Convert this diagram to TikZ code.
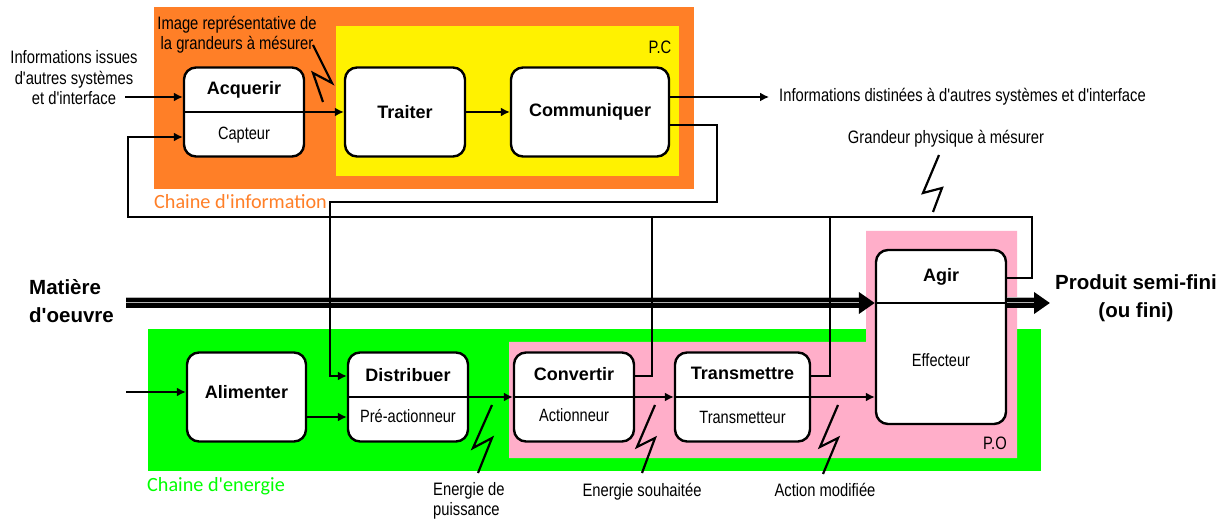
\documentclass[tikz,border=0pt]{standalone}
\usepackage{fontspec}
\setmainfont{Liberation Sans}[Ligatures=TeXOff]
\newfontfamily\narrowfont{Liberation Sans}[FakeStretch=0.82, Ligatures=TeXOff]
\newfontfamily\calibrifont{Carlito}[Ligatures=TeXOff]
\usetikzlibrary{arrows.meta,positioning}
\definecolor{orangePC}{HTML}{FF7F27}
\definecolor{yellowPC}{HTML}{FFF200}
\definecolor{greenPO}{HTML}{00FF00}
\definecolor{pinkPO}{HTML}{FFAEC9}

\begin{document}
\begin{tikzpicture}[x=1pt, y=1pt,
    box/.style={draw, line width=2.4pt, rounded corners=12pt, fill=white, minimum width=120pt, minimum height=89pt, inner sep=0pt, font=\bfseries\fontsize{18}{21}\selectfont},
    boxtitle/.style={font=\bfseries\fontsize{18}{21}\selectfont, inner sep=0pt},
    boxsub/.style={font=\narrowfont\fontsize{17.8}{20}\selectfont, inner sep=0pt},
    lbl/.style={font=\narrowfont\fontsize{18}{20.5}\selectfont, align=center, inner sep=0pt},
    biglbl/.style={font=\bfseries\fontsize{20.5}{28}\selectfont, inner sep=0pt},
    chainlbl/.style={font=\calibrifont\fontsize{20.2}{22}\selectfont, inner sep=0pt, anchor=west},
    arrow/.style={-{Latex[length=9pt,width=9pt]}, line width=1.6pt},
    link/.style={line width=1.6pt},
    divider/.style={line width=2pt},
    zap/.style={line width=2.2pt},
    flow/.style={line width=9.5pt, -{Triangle[length=16pt,width=21pt]},
        preaction={draw=gray!60, line width=11pt, -, shorten >=15pt},
        postaction={draw=gray!60, line width=1pt, -, shorten >=16pt}}
]
    \fill[white] (0,0) rectangle (1227,-521);
    \fill[orangePC] (154,-7) rectangle (694,-189);
    \fill[yellowPC] (336,-26) rectangle (679,-176);
    \fill[greenPO] (148,-329) rectangle (1041,-471);
    \fill[pinkPO] (866,-231) -- (1017,-231) -- (1017,-458) -- (509,-458) -- (509,-342) -- (866,-342) -- cycle;
    \useasboundingbox (0,0) rectangle (1227,-521);

    \node[lbl] (pclbl) at (660,-47) {P.C};
    \node[lbl] (polbl) at (995,-443) {P.O};
    \node[chainlbl, text=orangePC] (infochain) at (154,-202) {Chaine d'information};
    \node[chainlbl, text=greenPO] (energychain) at (147,-486) {Chaine d'energie};

    % chaine d'information
    \node[box] (acq) at (244,-112) {};
    \draw[divider] (acq.west) -- (acq.east);
    \node[boxtitle] (acqT) at ([yshift=22pt]acq.center) {Acquerir};
    \node[boxsub] (acqS) at ([yshift=-23pt]acq.center) {Capteur};
    \node[box, right=38.6pt of acq] (trait) {Traiter};
    \node[box, right=43.6pt of trait, minimum width=158pt] (comm) {Communiquer};

    % chaine d'energie
    \node[box, minimum width=119pt] (alim) at (246.5,-397) {};
    \node[boxtitle] (alimT) at ([yshift=5pt]alim.center) {Alimenter};
    \node[box, right=39.6pt of alim] (dist) {};
    \draw[divider] (dist.west) -- (dist.east);
    \node[boxtitle] (distT) at ([yshift=22pt]dist.center) {Distribuer};
    \node[boxsub] (distS) at ([yshift=-19pt]dist.center) {Pré-actionneur};
    \node[box, right=43.6pt of dist] (conv) {};
    \draw[divider] (conv.west) -- (conv.east);
    \node[boxtitle] (convT) at ([yshift=23pt]conv.center) {Convertir};
    \node[boxsub] (convS) at ([yshift=-18pt]conv.center) {Actionneur};
    \node[box, right=38.6pt of conv, minimum width=135pt] (trans) {};
    \draw[divider] (trans.west) -- (trans.east);
    \node[boxtitle] (transT) at ([yshift=24pt]trans.center) {Transmettre};
    \node[boxsub] (transS) at ([yshift=-20pt]trans.center) {Transmetteur};
    \node[box, minimum width=130pt, minimum height=174pt] (agir) at (941,-337) {};
    \coordinate (agirDiv) at ([yshift=34pt]agir.center);
    \draw[divider] (agirDiv -| agir.west) -- (agirDiv -| agir.east);
    \node[boxtitle] (agirT) at ([yshift=60pt]agir.center) {Agir};
    \node[boxsub] (agirS) at ([yshift=-23pt]agir.center) {Effecteur};

    % textes
    \node[lbl] (infoin) at (74,-78) {Informations issues\\d'autres systèmes\\et d'interface};
    \node[lbl] (imglbl) at (237,-34.5) {Image représentative de\\la grandeurs à mésurer};
    \node[lbl, anchor=west] (infoout) at (779,-97) {Informations distinées à d'autres systèmes et d'interface};
    \node[lbl] (grdlbl) at (946,-139) {Grandeur physique à mésurer};
    \node[lbl, align=left, anchor=west] (enpuis) at (433,-501) {Energie de\\puissance};
    \node[lbl] (ensouh) at (642,-492) {Energie souhaitée};
    \node[lbl] (actmod) at (825,-490) {Action modifiée};
    \node[biglbl, align=left, anchor=west] (matiere) at (29,-301) {Matière\\d'oeuvre};
    \node[biglbl, align=center] (produit) at (1136,-298) {Produit semi-fini\\(ou fini)};

    % matiere d'oeuvre
    \coordinate (matA) at (126,-303);
    \coordinate (prodA) at (1050,-303);
    \draw[flow] (matA) -- (matA -| agir.west);
    \draw[flow] (agirDiv -| agir.east) -- (prodA);

    % liaisons
    \coordinate (inA) at (125,-97);
    \draw[arrow] (inA) -- (inA -| acq.west);
    \draw[arrow] (acq) -- (trait);
    \draw[arrow] (trait) -- (comm);
    \draw[arrow] ([yshift=15pt]comm.east) -- ([xshift=-10pt]infoout.west);
    \coordinate (cmdR) at (717,-202);
    \coordinate (cmdL) at (330,-202);
    \draw[arrow] ([yshift=-13pt]comm.east) -| (cmdR) -- (cmdL) |- ([yshift=21pt]dist.west);
    \coordinate (fbR) at (1032,-217);
    \coordinate (fbL) at (128,-217);
    \coordinate (fbConv) at (652,-217);
    \coordinate (fbTrans) at (830,-217);
    \draw[arrow] ([yshift=59pt]agir.east) -| (fbR) -- (fbL) |- ([yshift=-25pt]acq.west);
    \draw[link] ([yshift=21pt]conv.east) -| (fbConv);
    \draw[link] ([yshift=21pt]trans.east) -| (fbTrans);
    \coordinate (enIn) at (126,-392);
    \draw[arrow] (enIn) -- (enIn -| alim.west);
    \draw[arrow] ([yshift=-20pt]alim.east) -- ([yshift=-20pt]dist.west);
    \draw[arrow] (dist) -- (conv);
    \draw[arrow] (conv) -- (trans);
    \draw[arrow] (trans.east) -- (trans.east -| agir.west);

    % eclairs
    \draw[zap] (313,-45) -- (332,-83) -- (313,-73) -- (323,-102);
    \draw[zap] (939,-155) -- (923,-193) -- (942,-188) -- (933,-212);
    \draw[zap] (492,-405) -- (473,-448) -- (492,-438) -- (478,-473);
    \draw[zap] (655,-405) -- (637,-447) -- (655,-438) -- (642,-473);
    \draw[zap] (838,-405) -- (820,-447) -- (838,-438) -- (823,-474);
\end{tikzpicture}
\end{document}
